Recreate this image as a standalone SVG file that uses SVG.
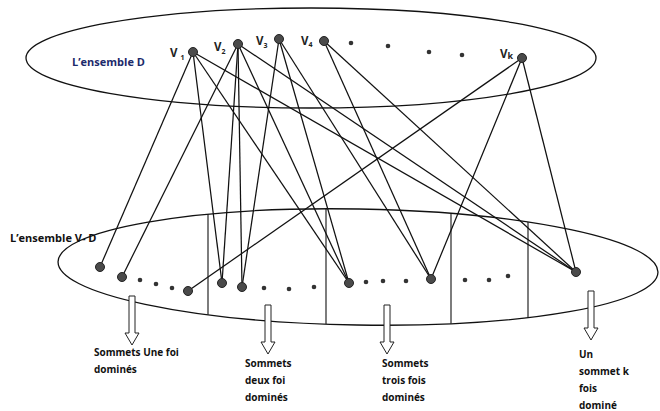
<svg xmlns="http://www.w3.org/2000/svg" width="660" height="411" viewBox="0 0 660 411">
  <style>
    .set { fill: none; stroke: #111; stroke-width: 1.3; }
    .div { stroke: #111; stroke-width: 1.1; }
    .edge { stroke: #111; stroke-width: 1.25; fill: none; }
    .node { fill: #4a4a4a; stroke: #222; stroke-width: 1; }
    .dot { fill: #333; }
    .lbl { font-family: "Open Sans", "Liberation Sans", sans-serif; font-weight: bold; font-size: 10px; fill: #111; }
    .setlbl { font-size: 11px; }
    .vlbl { font-family: "Open Sans", "Liberation Sans", sans-serif; font-weight: bold; font-size: 11.5px; fill: #222; }
    .sub { font-size: 7px; }
    .setD { fill: #1c2a6b; }
    .arrow { fill: #fff; stroke: #222; stroke-width: 1; }
  </style>
  <defs>
    <clipPath id="lowerSetClip">
      <ellipse cx="358" cy="267" rx="300" ry="58" transform="rotate(1 358 267)"/>
    </clipPath>
    <path id="downArrow" d="M-3,0 H3 V37 H7 L0,49 L-7,37 H-3 Z"/>
  </defs>
  <rect width="660" height="411" fill="#fff"/>

  <!-- set D -->
  <g id="set-D">
    <ellipse class="set" cx="311" cy="58" rx="285" ry="50"/>
    <text class="lbl setlbl setD" x="72" y="66">L’ensemble D</text>
  </g>

  <!-- set V-D with its partition -->
  <g id="set-V-minus-D">
    <ellipse class="set" cx="358" cy="267" rx="300" ry="58" transform="rotate(1 358 267)"/>
    <g clip-path="url(#lowerSetClip)">
      <line class="div" x1="208" y1="200" x2="208" y2="340"/>
      <line class="div" x1="326" y1="200" x2="326" y2="340"/>
      <line class="div" x1="451" y1="200" x2="451" y2="340"/>
      <line class="div" x1="528" y1="200" x2="528" y2="340"/>
    </g>
    <text class="lbl setlbl" x="10" y="242">L’ensemble V- D</text>
  </g>

  <!-- domination edges -->
  <g id="edges">
    <!-- v1 -->
    <line class="edge" x1="193" y1="52" x2="100" y2="267"/>
    <line class="edge" x1="193" y1="52" x2="222" y2="283"/>
    <line class="edge" x1="193" y1="52" x2="349" y2="283"/>
    <line class="edge" x1="193" y1="52" x2="576" y2="272"/>
    <!-- v2 -->
    <line class="edge" x1="238" y1="44" x2="122" y2="277"/>
    <line class="edge" x1="238" y1="44" x2="222" y2="283"/>
    <line class="edge" x1="238" y1="44" x2="242" y2="287"/>
    <line class="edge" x1="238" y1="44" x2="349" y2="283"/>
    <line class="edge" x1="238" y1="44" x2="576" y2="272"/>
    <!-- v3 -->
    <line class="edge" x1="279" y1="39" x2="242" y2="287"/>
    <line class="edge" x1="279" y1="39" x2="349" y2="283"/>
    <line class="edge" x1="279" y1="39" x2="431" y2="279"/>
    <!-- v4 -->
    <line class="edge" x1="324" y1="41" x2="431" y2="279"/>
    <line class="edge" x1="324" y1="41" x2="576" y2="272"/>
    <!-- vk -->
    <line class="edge" x1="522" y1="58" x2="188" y2="291"/>
    <line class="edge" x1="522" y1="58" x2="431" y2="279"/>
    <line class="edge" x1="522" y1="58" x2="576" y2="272"/>
  </g>

  <!-- vertices of D -->
  <g id="v1"><circle class="node" cx="193" cy="52" r="4.5"/><text class="vlbl" x="170" y="57">V <tspan class="sub" dy="3">1</tspan></text></g>
  <g id="v2"><circle class="node" cx="238" cy="44" r="4.5"/><text class="vlbl" x="214" y="51">V<tspan class="sub" dy="3">2</tspan></text></g>
  <g id="v3"><circle class="node" cx="279" cy="39" r="4.5"/><text class="vlbl" x="256" y="45">V<tspan class="sub" dy="3">3</tspan></text></g>
  <g id="v4"><circle class="node" cx="324" cy="41" r="4.5"/><text class="vlbl" x="301" y="45">V<tspan class="sub" dy="2">4</tspan></text></g>
  <g id="d-dots">
    <circle class="dot" cx="351" cy="43" r="2.3"/>
    <circle class="dot" cx="388" cy="46" r="2.3"/>
    <circle class="dot" cx="429" cy="52" r="2.3"/>
    <circle class="dot" cx="462" cy="55" r="2.3"/>
  </g>
  <g id="vk"><circle class="node" cx="522" cy="58" r="4.5"/><text class="vlbl" x="500" y="58">V<tspan class="sub" dy="1" style="font-size:9px">k</tspan></text></g>

  <!-- vertices of V-D -->
  <g id="u1"><circle class="node" cx="100" cy="267" r="4.5"/></g>
  <g id="u2"><circle class="node" cx="122" cy="277" r="4.5"/></g>
  <g id="u3"><circle class="node" cx="188" cy="291" r="4.5"/></g>
  <g id="u4"><circle class="node" cx="222" cy="283" r="4.5"/></g>
  <g id="u5"><circle class="node" cx="242" cy="287" r="4.5"/></g>
  <g id="u6"><circle class="node" cx="349" cy="283" r="4.5"/></g>
  <g id="u7"><circle class="node" cx="431" cy="279" r="4.5"/></g>
  <g id="u8"><circle class="node" cx="576" cy="272" r="4.5"/></g>
  <g id="vd-dots">
    <circle class="dot" cx="140" cy="280" r="2.3"/>
    <circle class="dot" cx="156" cy="284" r="2.3"/>
    <circle class="dot" cx="172" cy="288" r="2.3"/>
    <circle class="dot" cx="264" cy="288" r="2.3"/>
    <circle class="dot" cx="289" cy="289" r="2.3"/>
    <circle class="dot" cx="314" cy="287" r="2.3"/>
    <circle class="dot" cx="366" cy="282" r="2.3"/>
    <circle class="dot" cx="383" cy="281" r="2.3"/>
    <circle class="dot" cx="406" cy="281" r="2.3"/>
    <circle class="dot" cx="465" cy="280" r="2.3"/>
    <circle class="dot" cx="489" cy="280" r="2.3"/>
    <circle class="dot" cx="508" cy="276" r="2.3"/>
  </g>

  <!-- class arrows and captions -->
  <g id="class-once">
    <use href="#downArrow" class="arrow" transform="translate(132 296)"/>
    <text class="lbl" x="94" y="356">Sommets Une foi</text>
    <text class="lbl" x="94" y="373">dominés</text>
  </g>
  <g id="class-twice">
    <use href="#downArrow" class="arrow" transform="translate(268 305)"/>
    <text class="lbl" x="245" y="367">Sommets</text>
    <text class="lbl" x="245" y="384">deux foi</text>
    <text class="lbl" x="245" y="401">dominés</text>
  </g>
  <g id="class-thrice">
    <use href="#downArrow" class="arrow" transform="translate(387 305)"/>
    <text class="lbl" x="382" y="367">Sommets</text>
    <text class="lbl" x="382" y="384">trois fois</text>
    <text class="lbl" x="382" y="401">dominés</text>
  </g>
  <g id="class-k">
    <use href="#downArrow" class="arrow" transform="translate(591 291)"/>
    <text class="lbl" x="579" y="358">Un</text>
    <text class="lbl" x="579" y="375">sommet k</text>
    <text class="lbl" x="579" y="392">fois</text>
    <text class="lbl" x="579" y="409">dominé</text>
  </g>
</svg>
